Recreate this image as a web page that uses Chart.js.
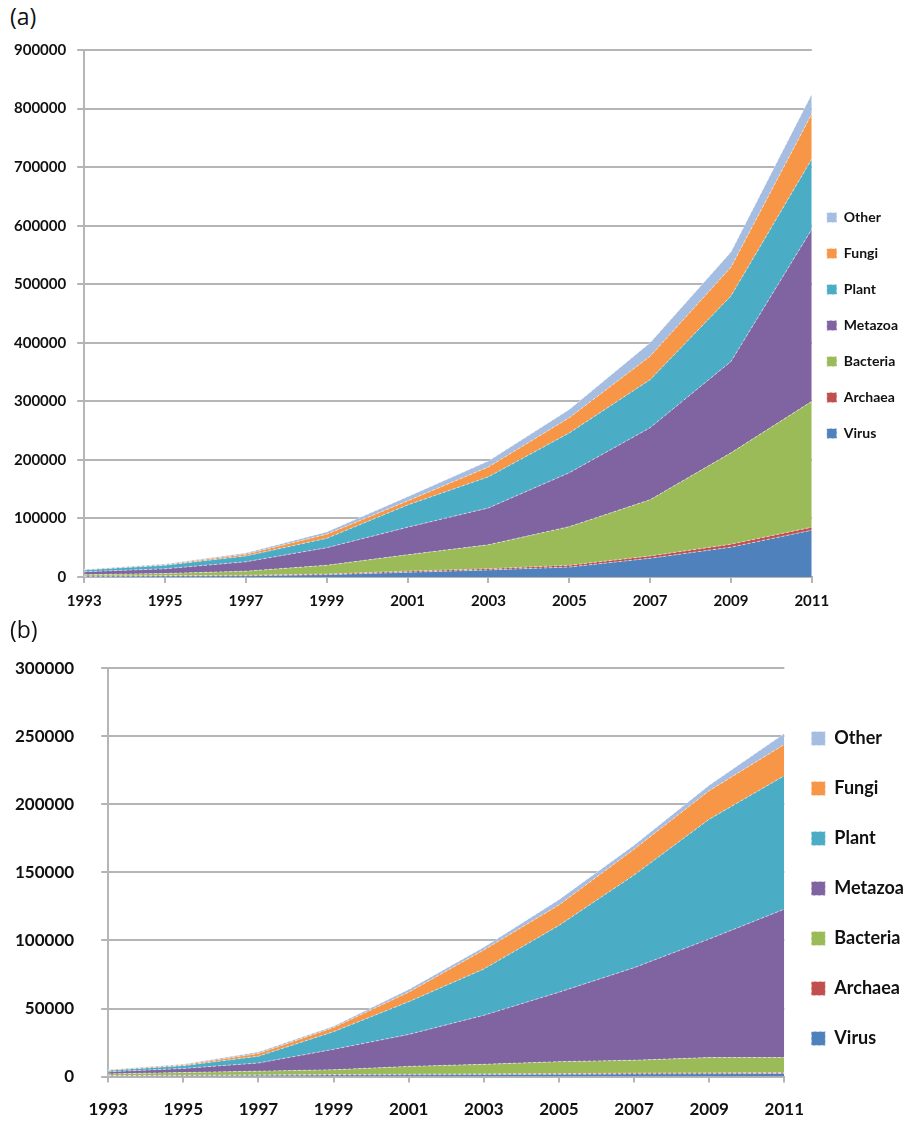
<!DOCTYPE html>
<html>
  <head>
    <meta charset="utf-8">
    <title>Sequences by kingdom</title>
    <script src="https://cdn.jsdelivr.net/npm/chart.js@4.4.0/dist/chart.umd.min.js"></script>
    <style>
      body { margin: 0; background: #fff; width: 906px; height: 1121px; position: relative; overflow: hidden; font-family: "Open Sans", sans-serif; }
      .tag { position: absolute; left: 10px; font-size: 23px; color: #111; }
      .box { position: absolute; }
    </style>
  </head>
  <body>
    <div class="tag" style="top:0px">(a)</div>
    <div class="box" style="left:0;top:30px;width:915px;height:590px"><canvas id="chart_a"></canvas></div>
    <div class="tag" style="top:613px">(b)</div>
    <div class="box" style="left:-12px;top:631px;width:931px;height:506px"><canvas id="chart_b"></canvas></div>

    <script type="text/javascript">
      var years = ["1993", "1995", "1997", "1999", "2001", "2003", "2005", "2007", "2009", "2011"];
      var kingdoms = ["Virus", "Archaea", "Bacteria", "Metazoa", "Plant", "Fungi", "Other"];
      var colors = ["#4f81bd", "#c0504d", "#9bbb59", "#8064a2", "#4bacc6", "#f79646", "#a5bde0"];

      // panel (a)
      var virus_a    = [1000, 1500, 2000, 4000, 8000, 12000, 17000, 32000, 51000, 80000];
      var archaea_a  = [500, 700, 1000, 1000, 2000, 2000, 3000, 4000, 5000, 5000];
      var bacteria_a = [2500, 3800, 7000, 15000, 28000, 41000, 66000, 96000, 156000, 215000];
      var metazoa_a  = [5000, 8000, 16000, 30000, 47000, 63000, 92000, 123000, 156000, 294000];
      var plant_a    = [3000, 6000, 10000, 16000, 38000, 53000, 68000, 82000, 112000, 120000];
      var fungi_a    = [500, 1000, 3000, 7000, 7000, 17000, 26000, 40000, 49000, 77000];
      var other_a    = [500, 1000, 2000, 4000, 7000, 10000, 14000, 23000, 26000, 34000];

      // panel (b)
      var virus_b    = [500, 700, 900, 1100, 1300, 1500, 1700, 1900, 2100, 2300];
      var archaea_b  = [200, 300, 300, 400, 400, 500, 500, 600, 600, 700];
      var bacteria_b = [1300, 2000, 2800, 3500, 5800, 7000, 8800, 9500, 11300, 11000];
      var metazoa_b  = [1500, 3000, 6000, 15000, 23500, 36000, 51000, 68000, 87000, 109000];
      var plant_b    = [1000, 2000, 5000, 13000, 24000, 34000, 49000, 68000, 88000, 98000];
      var fungi_b    = [300, 500, 2000, 3000, 7000, 14000, 15000, 19000, 21000, 23000];
      var other_b    = [200, 500, 1000, 1000, 2000, 2000, 4000, 3000, 4000, 8000];

      var ticks_a = { max: 900000, step: 100000 };
      var ticks_b = { max: 300000, step: 50000 };

      // moves the legend column a few pixels once the layout is done
      var legendNudge = {
        id: "legendNudge",
        afterLayout: function(chart, args, opts) {
          var lg = chart.legend;
          lg.left += opts.dx; lg.right += opts.dx;
          lg.top += opts.dy; lg.bottom += opts.dy;
        }
      };

      function make_datasets(series) {
        return series.map(function(values, i) {
          return {
            label: kingdoms[i],
            data: values,
            backgroundColor: colors[i],
            borderColor: "rgba(255,255,255,0.55)",
            borderWidth: 1,
            borderDash: [3, 2],
            fill: i == 0 ? "origin" : "-1",
            pointRadius: 0,
            tension: 0
          };
        });
      }

      function make_chart(id, series, ticks, st) {
        return new Chart(document.getElementById(id), {
          type: "line",
          data: { labels: years, datasets: make_datasets(series) },
          plugins: [legendNudge],
          options: {
            responsive: true,
            maintainAspectRatio: false,
            animation: false,
            layout: { padding: st.padding },
            plugins: {
              tooltip: { enabled: false },
              legendNudge: st.nudge,
              legend: {
                position: "right",
                reverse: true,
                labels: {
                  boxWidth: st.box, boxHeight: st.box,
                  padding: st.legendPad,
                  color: "#111",
                  font: { family: "Lato", weight: "bold", size: st.legend }
                }
              }
            },
            scales: {
              x: {
                offset: false,
                grid: { display: true, drawOnChartArea: false, color: "#b5b5b5", lineWidth: 2, tickLength: 6 },
                border: { color: "#b5b5b5", width: 2 },
                ticks: { color: "#111", maxRotation: 0, padding: st.xPad, font: { family: "Lato", weight: "bold", size: st.x } }
              },
              y: {
                stacked: true,
                min: 0,
                max: ticks.max,
                grid: { color: "#b5b5b5", lineWidth: 2, tickLength: 7 },
                border: { color: "#b5b5b5", width: 2 },
                ticks: {
                  stepSize: ticks.step, color: "#111", padding: st.yPad,
                  font: { family: "Lato", weight: "bold", size: st.y },
                  callback: function(v) { return String(v); }
                }
              }
            }
          }
        });
      }

      make_chart("chart_a",
        [virus_a, archaea_a, bacteria_a, metazoa_a, plant_a, fungi_a, other_a],
        ticks_a,
        { box: 10, legend: 14, x: 15, y: 15, legendPad: 22, xPad: 9, yPad: 11,
          nudge: { dx: -7, dy: -9 },
          padding: { left: 3, top: 20, right: 0, bottom: 1 } });

      make_chart("chart_b",
        [virus_b, archaea_b, bacteria_b, metazoa_b, plant_b, fungi_b, other_b],
        ticks_b,
        { box: 14, legend: 18, x: 17, y: 17, legendPad: 32, xPad: 17, yPad: 27,
          nudge: { dx: -5, dy: -9 },
          padding: { left: 0, top: 27, right: 0, bottom: 0 } });
    </script>
  </body>
</html>
